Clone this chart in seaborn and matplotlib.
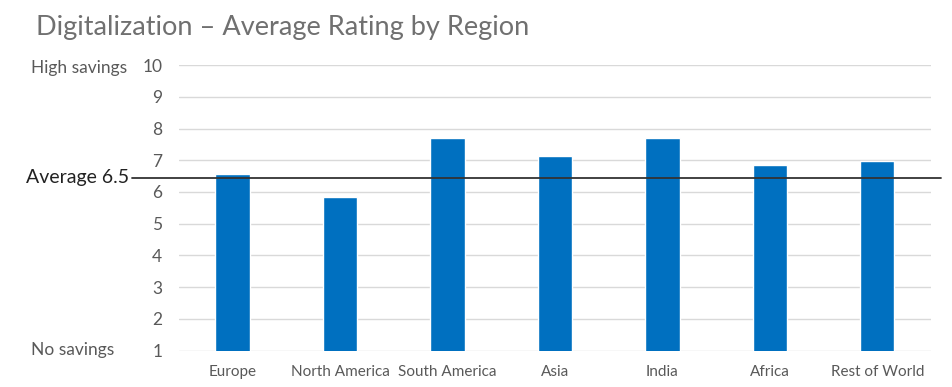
import seaborn as sns
import pandas as pd
import matplotlib.pyplot as plt

regions = ["Europe", "North America", "South America", "Asia", "India", "Africa", "Rest of World"]
ratings = [6.58, 5.85, 7.71, 7.14, 7.70, 6.84, 6.99]
average = 6.45
average_label = "Average 6.5"
y_ticks = [1, 2, 3, 4, 5, 6, 7, 8, 9, 10]

sns.set_theme(style="white")
plt.rcParams["font.family"] = ["Lato", "DejaVu Sans"]

df = pd.DataFrame({"region": regions, "rating": ratings})

fig = plt.figure(figsize=(9.53, 3.87), dpi=100)
ax = fig.add_axes([0.1878, 0.0938, 0.7891, 0.7382])

sns.barplot(data=df, x="region", y="rating", color="#0070C0", width=0.32,
            saturation=1, ax=ax, zorder=3)

ax.set_ylim(1, 10)
ax.set_yticks(y_ticks)
ax.grid(axis="y", color="#d9d9d9", linewidth=1, zorder=0)
sns.despine(ax=ax, left=True, bottom=True, top=True, right=True)
ax.tick_params(axis="y", length=0, pad=12, labelsize=12.5, labelcolor="#595959")
ax.tick_params(axis="x", length=0, pad=10, labelsize=11, labelcolor="#595959")
ax.set_xlabel("")
ax.set_ylabel("")

# average line reaches past the plot area
ax.axhline(average, xmin=-0.0625, xmax=1.013, color="#333333", linewidth=1.3,
           clip_on=False, zorder=4)
ax.annotate(average_label, xy=(-0.0665, average), xycoords=("axes fraction", "data"),
            ha="right", va="center", fontsize=14, color="#222222", annotation_clip=False)

fig.text(31 / 953, 1 - 68 / 387, "High savings", ha="left", va="center",
         fontsize=12.5, color="#595959")
fig.text(31 / 953, 1 - 350 / 387, "No savings", ha="left", va="center",
         fontsize=12.5, color="#595959")

fig.text(36 / 953, 1 - 27 / 387, "Digitalization \u2013 Average Rating by Region",
         ha="left", va="center", fontsize=19.5, color="#707070")

plt.savefig("out.png", dpi=100)
